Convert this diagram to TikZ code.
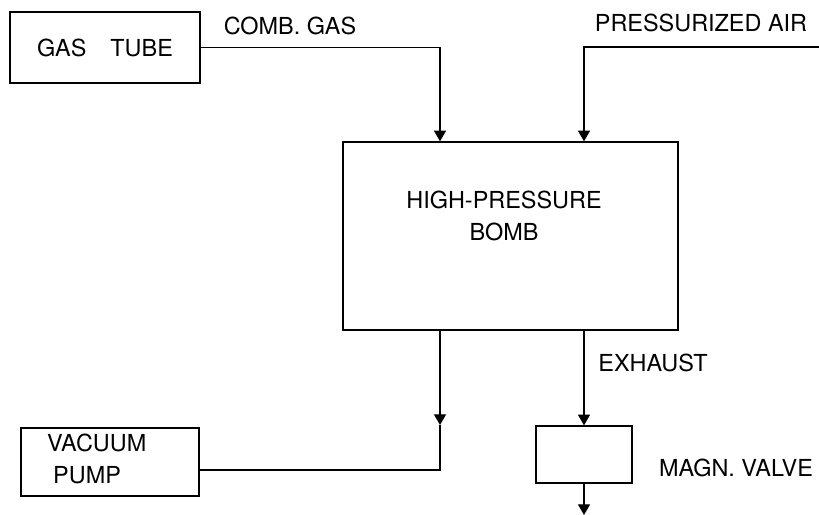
\documentclass[tikz,border=0pt]{standalone}
\usepackage{fontspec}
\setmainfont{TeX Gyre Heros}
\usepackage{tikz}
\usetikzlibrary{arrows.meta, positioning, calc}
\tikzset{
  pl/box/.style={rectangle, draw=black, fill=white, line width=1.1pt,
    inner sep=0pt},
  pl/txt/.style={font=\fontsize{20}{27}\selectfont, inner sep=0pt,
    align=center},
  pl/arr/.style={-{Triangle[length=0.32cm,width=0.36cm]}, line width=1.1pt},
  pl/ln/.style={line width=1.1pt}
}
\begin{document}
\begin{tikzpicture}
  \useasboundingbox (0,0) rectangle (24.57,15.45);
  \node[pl/box, minimum width=10.05cm, minimum height=5.64cm] (bomb)
        at (15.315,8.37) {};
  \node[pl/txt] (bombtxt) at (15.12,8.97) {HIGH-PRESSURE\\BOMB};
  \node[pl/box, pl/txt, minimum width=5.7cm, minimum height=2.13cm] (gas)
        at (3.15,14.025) {GAS\hspace{0.72cm}TUBE};
  \node[pl/box, minimum width=5.34cm, minimum height=2.04cm] (pump)
        at (3.3,1.59) {};
  \node[pl/txt, align=left, anchor=west] (pumptxt) at (1.41,1.68)
        {VACUUM\\\hspace{0.18cm}PUMP};
  \node[pl/box, minimum width=2.88cm, minimum height=1.71cm] (valve)
        at (17.52,1.815) {};

  \node[pl/txt] (comb) at (8.7,14.67) {COMB. GAS};
  \node[pl/txt] (air) at (21.03,14.76) {PRESSURIZED AIR};
  \node[pl/txt] (exh) at (19.59,4.56) {EXHAUST};
  \node[pl/txt] (magn) at (22.08,1.4) {MAGN. VALVE};

  \coordinate (inL) at (13.2,0);
  \coordinate (airin) at (24.57,14.04);
  \coordinate (vacarr) at (13.2,2.7);
  \coordinate (out) at (17.52,0);

  \draw[pl/arr] (gas.east) -| (bomb.north -| inL);
  \draw[pl/arr] (airin) -| (bomb.north -| valve);
  \draw[pl/arr] (bomb.south -| inL) -- (vacarr);
  \draw[pl/ln] (vacarr) |- ([yshift=-0.24cm]pump.east);
  \draw[pl/arr] (bomb.south -| valve) -- (valve.north);
  \draw[pl/arr] (valve.south) -- (out);
\end{tikzpicture}
\end{document}
